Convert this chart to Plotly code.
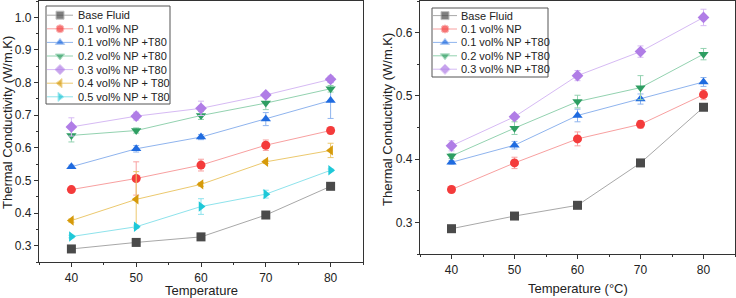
import plotly.graph_objects as go

temps = [40, 50, 60, 70, 80]

# Left panel
left_names = ["Base Fluid", "0.1 vol% NP", "0.1 vol% NP +T80", "0.2 vol% NP +T80",
              "0.3 vol% NP +T80", "0.4 vol% NP + T80", "0.5 vol% NP + T80"]
left_base = [0.290, 0.310, 0.327, 0.394, 0.482]
left_np01 = [0.472, 0.506, 0.547, 0.608, 0.653]
left_t01 = [0.542, 0.597, 0.633, 0.688, 0.745]
left_t02 = [0.638, 0.653, 0.699, 0.737, 0.781]
left_t03 = [0.664, 0.697, 0.721, 0.762, 0.810]
left_t04 = [0.377, 0.442, 0.488, 0.557, 0.592]
left_t05 = [0.328, 0.358, 0.420, 0.458, 0.531]
left_err_base = [0.004, 0.004, 0.007, 0.004, 0.004]
left_err_np01 = [0.005, 0.051, 0.018, 0.016, 0.010]
left_err_t01 = [0.005, 0.010, 0.008, 0.020, 0.055]
left_err_t02 = [0.020, 0.008, 0.012, 0.020, 0.010]
left_err_t03 = [0.028, 0.012, 0.022, 0.008, 0.010]
left_err_t04 = [0.005, 0.085, 0.006, 0.005, 0.022]
left_err_t05 = [0.004, 0.005, 0.024, 0.012, 0.004]

# Right panel
right_names = ["Base Fluid", "0.1 vol% NP", "0.1 vol% NP +T80", "0.2 vol% NP +T80",
               "0.3 vol% NP +T80"]
right_base = [0.290, 0.310, 0.327, 0.394, 0.482]
right_np01 = [0.352, 0.394, 0.432, 0.455, 0.502]
right_t01 = [0.395, 0.422, 0.469, 0.495, 0.522]
right_t02 = [0.405, 0.449, 0.491, 0.513, 0.566]
right_t03 = [0.421, 0.467, 0.532, 0.570, 0.624]
right_err_base = [0.003, 0.003, 0.003, 0.003, 0.003]
right_err_np01 = [0.005, 0.009, 0.011, 0.006, 0.008]
right_err_t01 = [0.003, 0.006, 0.010, 0.008, 0.007]
right_err_t02 = [0.004, 0.010, 0.010, 0.019, 0.009]
right_err_t03 = [0.008, 0.004, 0.008, 0.009, 0.013]

marker_colors = ["#4a4a4a", "#f43b3b", "#1f6be0", "#2e9e62", "#b07de6", "#d69a0a", "#1ec8d8"]
line_colors = ["#a8a8a8", "#f8a0a0", "#8fb4ee", "#93d2b0", "#d6baf4", "#ecc96e", "#8ee3ec"]
symbols = ["square", "circle", "triangle-up", "triangle-down", "diamond", "triangle-left", "triangle-right"]

W, H = 736, 298
FONT = "Liberation Sans, Arial"
TXT = "#222222"
AX = "#333333"

fig = go.Figure()

left_data = [(left_base, left_err_base), (left_np01, left_err_np01), (left_t01, left_err_t01),
             (left_t02, left_err_t02), (left_t03, left_err_t03), (left_t04, left_err_t04),
             (left_t05, left_err_t05)]
for i, (ys, es) in enumerate(left_data):
    fig.add_trace(go.Scatter(
        x=temps, y=ys, name=left_names[i], mode="lines+markers", showlegend=False,
        line=dict(color=line_colors[i], width=1),
        marker=dict(symbol=symbols[i], size=9, color=marker_colors[i]),
        error_y=dict(type="data", array=es, visible=True, color=line_colors[i], thickness=1, width=3),
        xaxis="x", yaxis="y"))

right_data = [(right_base, right_err_base), (right_np01, right_err_np01), (right_t01, right_err_t01),
              (right_t02, right_err_t02), (right_t03, right_err_t03)]
for i, (ys, es) in enumerate(right_data):
    fig.add_trace(go.Scatter(
        x=temps, y=ys, name=right_names[i], mode="lines+markers", showlegend=False,
        line=dict(color=line_colors[i], width=1),
        marker=dict(symbol=symbols[i], size=9, color=marker_colors[i]),
        error_y=dict(type="data", array=es, visible=True, color=line_colors[i], thickness=1, width=3),
        xaxis="x2", yaxis="y2"))


# Compact legends (drawn on a pixel-space overlay axis)
def add_legend(names, box, line_x, text_x, y0, step):
    bx0, by0, bx1, by1 = box
    fig.add_shape(type="rect", xref="paper", yref="paper",
                  x0=bx0 / W, x1=bx1 / W, y0=1 - by0 / H, y1=1 - by1 / H,
                  line=dict(color="#555555", width=1), fillcolor="rgba(0,0,0,0)", layer="above")
    for i, nm in enumerate(names):
        yy = y0 + i * step
        xm = (line_x[0] + line_x[1]) / 2
        fig.add_trace(go.Scatter(
            x=[line_x[0], xm, line_x[1]], y=[yy, yy, yy], mode="lines+markers",
            showlegend=False, hoverinfo="skip",
            line=dict(color=line_colors[i], width=1),
            marker=dict(symbol=symbols[i], size=[0, 8, 0], color=marker_colors[i]),
            xaxis="x3", yaxis="y3"))
        fig.add_annotation(text=nm, x=text_x / W, y=1 - yy / H, xref="paper", yref="paper",
                           xanchor="left", yanchor="middle", showarrow=False,
                           font=dict(size=11, family=FONT, color=TXT))


add_legend(left_names, (46, 6, 170, 104), (47, 73), 76, 15.2, 13.6)
add_legend(right_names, (432, 8, 548, 77), (433, 457), 459, 15.6, 13.4)

axis_common = dict(showline=True, linecolor=AX, linewidth=1.2, mirror=True,
                   ticks="outside", ticklen=4, tickcolor=AX, tickwidth=1,
                   showgrid=False, zeroline=False,
                   tickfont=dict(family=FONT, size=12, color=TXT))
mirror_common = dict(showline=False, ticks="inside", ticklen=4, tickcolor=AX, tickwidth=1,
                     showgrid=False, zeroline=False, showticklabels=False, fixedrange=True)

xminor = dict(ticks="outside", ticklen=2, dtick=5, tick0=35, tickcolor=AX)
xminor_in = dict(ticks="inside", ticklen=2, dtick=5, tick0=35, tickcolor=AX)
yminor = dict(ticks="outside", ticklen=2, dtick=0.05, tick0=0.25, tickcolor=AX)
yminor_in = dict(ticks="inside", ticklen=2, dtick=0.05, tick0=0.25, tickcolor=AX)

fig.update_layout(
    width=W, height=H,
    margin=dict(l=0, r=0, t=0, b=0),
    paper_bgcolor="white", plot_bgcolor="rgba(0,0,0,0)",
    font=dict(family=FONT, size=12, color=TXT),
    showlegend=False,
    xaxis=dict(domain=[39 / W, 363 / W], range=[35, 85], tickvals=temps, minor=xminor,
               anchor="y", **axis_common),
    yaxis=dict(domain=[1 - 262 / H, 1 - 1 / H], range=[0.25, 1.05], dtick=0.1, tick0=0.3,
               tickformat=".1f", minor=yminor, anchor="x", **axis_common),
    xaxis2=dict(domain=[420 / W, 735 / W], range=[35, 85], tickvals=temps, minor=xminor,
                anchor="y2", **axis_common),
    yaxis2=dict(domain=[1 - 254 / H, 1 - 1 / H], range=[0.25, 0.65], dtick=0.1, tick0=0.3,
                tickformat=".1f", minor=yminor, anchor="x2", **axis_common),
    xaxis3=dict(domain=[0, 1], range=[0, W], visible=False, fixedrange=True, anchor="y3"),
    yaxis3=dict(domain=[0, 1], range=[H, 0], visible=False, fixedrange=True, anchor="x3"),
    # mirrored (top / right) axes with inward ticks
    xaxis4=dict(overlaying="x", side="top", anchor="y", range=[35, 85], tickvals=temps,
                minor=xminor_in, **mirror_common),
    yaxis4=dict(overlaying="y", side="right", anchor="x", range=[0.25, 1.05], dtick=0.1,
                tick0=0.3, minor=yminor_in, **mirror_common),
    xaxis5=dict(overlaying="x2", side="top", anchor="y2", range=[35, 85], tickvals=temps,
                minor=xminor_in, **mirror_common),
    yaxis5=dict(overlaying="y2", side="right", anchor="x2", range=[0.25, 0.65], dtick=0.1,
                tick0=0.3, minor=yminor_in, **mirror_common),
)

ann_font = dict(size=13, family=FONT, color=TXT)
fig.add_annotation(text="Thermal Conductivity (W/m.K)", x=7 / W, y=1 - 123 / H,
                   xref="paper", yref="paper", textangle=-90, showarrow=False,
                   xanchor="center", yanchor="middle", font=ann_font)
fig.add_annotation(text="Temperature", x=201 / W, y=1 - 290 / H,
                   xref="paper", yref="paper", showarrow=False,
                   xanchor="center", yanchor="middle", font=ann_font)
fig.add_annotation(text="Thermal Conductivity (W/m.K)", x=388 / W, y=1 - 120 / H,
                   xref="paper", yref="paper", textangle=-90, showarrow=False,
                   xanchor="center", yanchor="middle", font=ann_font)
fig.add_annotation(text="Temperature (°C)", x=578 / W, y=1 - 288 / H,
                   xref="paper", yref="paper", showarrow=False,
                   xanchor="center", yanchor="middle", font=ann_font)

fig.write_html("out.html")
